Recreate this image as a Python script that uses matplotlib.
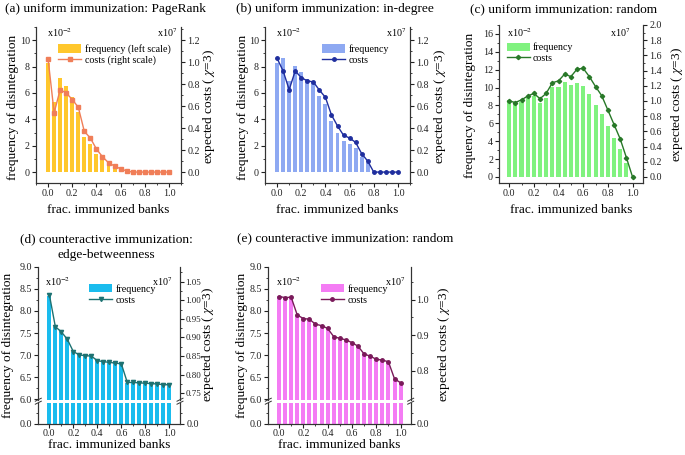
import numpy as np
import matplotlib
matplotlib.use('Agg')
import matplotlib.pyplot as plt
from matplotlib.lines import Line2D
from matplotlib.ticker import MultipleLocator, FormatStrFormatter

plt.rcParams['font.family'] = ['Liberation Serif', 'DejaVu Serif']
plt.rcParams['mathtext.fontset'] = 'stix'

W, H = 685, 455

# fraction of immunized banks (x categories)
frac = [0.0, 0.05, 0.1, 0.15, 0.2, 0.25, 0.3, 0.35, 0.4, 0.45, 0.5,
        0.55, 0.6, 0.65, 0.7, 0.75, 0.8, 0.85, 0.9, 0.95, 1.0]

# (a) uniform: PageRank  (freq x1e-2, costs x1e7)
freq_pr = [8.3, 5.3, 7.15, 6.5, 5.7, 4.55, 2.65, 2.1, 1.4, 0.9, 0.55,
           0.4, 0.25, 0.12, 0.05, 0.05, 0.05, 0.05, 0.05, 0.05, 0.05]
cost_pr = [1.03, 0.54, 0.75, 0.72, 0.66, 0.59, 0.37, 0.31, 0.21, 0.14, 0.085,
           0.055, 0.03, 0.01, 0.0, 0.0, 0.0, 0.0, 0.0, 0.0, 0.0]

# (b) uniform: in-degree
freq_in = [8.3, 8.68, 6.9, 8.07, 7.6, 7.07, 6.75, 5.75, 5.15, 3.85, 2.97,
           2.35, 2.15, 1.83, 1.15, 0.68, 0.04, 0.04, 0.04, 0.04, 0.04]
cost_in = [1.035, 0.92, 0.75, 0.92, 0.86, 0.83, 0.82, 0.746, 0.68, 0.52, 0.42,
           0.335, 0.31, 0.27, 0.168, 0.1, 0.0, 0.0, 0.0, 0.0, 0.0]

# (c) uniform: random
freq_rd = [8.6, 8.4, 8.4, 8.8, 9.0, 8.3, 8.8, 10.1, 10.1, 10.65, 10.3,
           10.5, 10.2, 9.25, 8.1, 7.0, 5.7, 4.35, 3.1, 1.55, 0.0]
cost_rd = [1.0, 0.98, 1.015, 1.065, 1.1, 1.03, 1.1, 1.24, 1.265, 1.355, 1.32,
           1.42, 1.43, 1.32, 1.19, 1.07, 0.88, 0.69, 0.5, 0.255, 0.0]

# (d) counteractive: edge-betweenness
freq_eb = [8.34, 7.64, 7.53, 7.36, 7.08, 7.02, 6.99, 6.99, 6.89, 6.87, 6.84,
           6.84, 6.81, 6.38, 6.38, 6.37, 6.36, 6.35, 6.34, 6.33, 6.33]
cost_eb = [1.015, 0.929, 0.915, 0.895, 0.862, 0.853, 0.851, 0.85, 0.8375, 0.835, 0.833,
           0.831, 0.829, 0.779, 0.779, 0.778, 0.777, 0.776, 0.775, 0.773, 0.773]

# (e) counteractive: random
freq_cr = [8.33, 8.30, 8.30, 7.90, 7.83, 7.81, 7.70, 7.66, 7.60, 7.41, 7.37,
           7.34, 7.28, 7.20, 7.02, 6.97, 6.90, 6.88, 6.85, 6.45, 6.37]
cost_cr = [1.009, 1.006, 1.007, 0.957, 0.947, 0.945, 0.931, 0.927, 0.919, 0.896, 0.891,
           0.887, 0.879, 0.869, 0.847, 0.841, 0.832, 0.830, 0.825, 0.777, 0.766]

FS = 9.6
TS = 7.2

fig = plt.figure(figsize=(W / 100, H / 100), dpi=100)


def rect(l, t, r, b):
    return [l / W, 1 - b / H, (r - l) / W, (b - t) / H]


def fxy(x, y):
    return x / W, 1 - y / H


def style(ax):
    ax.spines['top'].set_visible(False)
    for s in ax.spines.values():
        s.set_color('#333333')
        s.set_linewidth(0.8)
    ax.tick_params(which='both', direction='out', labelsize=TS, colors='#222222', pad=1.5)
    ax.tick_params(which='major', length=3)
    ax.tick_params(which='minor', length=1.7)
    ax.tick_params(axis='x', pad=1)


def xaxis(ax, xlim):
    ax.set_xlim(*xlim)
    ax.xaxis.set_major_locator(MultipleLocator(0.2))
    ax.xaxis.set_minor_locator(MultipleLocator(0.1))
    ax.xaxis.set_major_formatter(FormatStrFormatter('%.1f'))


def labels(ax_x, ax_l, ax_r, xl, yl, yr):
    ax_x.set_xlabel('frac. immunized banks', fontsize=FS, va='center')
    ax_x.xaxis.set_label_coords(*fxy(*xl), transform=fig.transFigure)
    ax_l.set_ylabel('frequency of disintegration', fontsize=FS, va='center')
    ax_l.yaxis.set_label_coords(*fxy(*yl), transform=fig.transFigure)
    ax_r.set_ylabel(r'expected costs ( $\chi$=3)', fontsize=FS, va='center')
    ax_r.yaxis.set_label_coords(*fxy(*yr), transform=fig.transFigure)


def exps(x1, x2, y):
    fig.text(*fxy(x1, y), r'x10$^{-2}$', fontsize=TS, va='center', ha='left')
    fig.text(*fxy(x2, y), r'x10$^{7}$', fontsize=TS, va='center', ha='right')


def legend(ax, bars, line, names, at):
    ax.legend([bars, line], names, loc='upper left', bbox_to_anchor=at, frameon=False,
              fontsize=TS, handlelength=2.3, handleheight=0.9, handletextpad=0.35,
              labelspacing=0.15, borderaxespad=0, borderpad=0)


def simple(box, freq, cost, bc, lc, mk, ms, ylim, ylim2, ystep, ystep2, xlim,
           names, leg_at, lab, ex, title, tpos):
    ax = fig.add_axes(rect(*box))
    ax2 = ax.twinx()
    style(ax)
    style(ax2)
    bars = ax.bar(frac, freq, width=0.033, color=bc, linewidth=0)
    line, = ax2.plot(frac, cost, color=lc, marker=mk, ms=ms, lw=1)
    xaxis(ax, xlim)
    ax.set_ylim(*ylim)
    ax2.set_ylim(*ylim2)
    ax.yaxis.set_major_locator(MultipleLocator(ystep))
    ax.yaxis.set_minor_locator(MultipleLocator(ystep / 2))
    ax2.yaxis.set_major_locator(MultipleLocator(ystep2))
    ax2.yaxis.set_minor_locator(MultipleLocator(ystep2 / 2))
    ax2.yaxis.set_major_formatter(FormatStrFormatter('%.1f'))
    legend(ax2, bars, line, names, leg_at)
    labels(ax, ax, ax2, *lab)
    exps(*ex)
    fig.text(*fxy(*tpos), title, fontsize=FS, va='center', ha='left')


def breakmark(x, y):
    for dy in (-1.5, 1.5):
        fig.add_artist(Line2D([(x - 3) / W, (x + 3) / W],
                              [1 - (y + dy + 1.5) / H, 1 - (y + dy - 1.5) / H],
                              transform=fig.transFigure, color='#333333', lw=0.7))


def broken(l, r, freq, cost, bc, lc, mk, ms, ylim2, ystep2, fmt2, rts, xlim,
           leg_at, lab, ex):
    up = fig.add_axes(rect(l, 266.7, r, 399.8))
    lo = fig.add_axes(rect(l, 402.5, r, 423.8))
    up2 = up.twinx()
    lo2 = lo.twinx()
    for a in (up, lo, up2, lo2):
        style(a)
    up2.tick_params(labelsize=rts, pad=1)
    lo.tick_params(axis='x', pad=0.5)
    for a in (up, up2):
        a.spines['bottom'].set_visible(False)
        a.tick_params(axis='x', which='both', bottom=False, labelbottom=False)
    bars = up.bar(frac, freq, width=0.033, color=bc, linewidth=0)
    lo.bar(frac, freq, width=0.033, color=bc, linewidth=0)
    line, = up2.plot(frac, cost, color=lc, marker=mk, ms=ms, lw=1)
    xaxis(up, xlim)
    xaxis(lo, xlim)
    up.set_ylim(5.99, 9.0)
    up.yaxis.set_major_locator(MultipleLocator(0.5))
    up.yaxis.set_minor_locator(MultipleLocator(0.25))
    up.yaxis.set_major_formatter(FormatStrFormatter('%.1f'))
    up2.set_ylim(*ylim2)
    up2.yaxis.set_major_locator(MultipleLocator(ystep2))
    up2.yaxis.set_minor_locator(MultipleLocator(ystep2 / 2))
    up2.yaxis.set_major_formatter(FormatStrFormatter(fmt2))
    for a in (lo, lo2):
        a.set_ylim(0, 1)
        a.set_yticks([0])
        a.set_yticks([0.5], minor=True)
        a.yaxis.set_major_formatter(FormatStrFormatter('%.1f'))
    legend(up2, bars, line, ['frequency', 'costs'], leg_at)
    labels(lo, up, up2, *lab)
    exps(*ex)
    breakmark(l, 401.2)
    breakmark(r, 401.2)


simple((36, 27, 181, 183.3), freq_pr, cost_pr, '#FFC72C', '#F07E58', 's', 2.5,
       (-0.85, 11), (-0.102, 1.32), 2, 0.2, (-0.1, 1.1),
       ['frequency (left scale)', 'costs (right scale)'], (0.155, 0.89),
       ((108.5, 210), (13, 107), (209, 107)), (47, 177, 33),
       '(a) uniform immunization: PageRank', (5, 9))

simple((265, 27, 410, 183.3), freq_in, cost_in, '#8EA9F2', '#1F2E9E', 'o', 2.5,
       (-0.85, 11), (-0.102, 1.32), 2, 0.2, (-0.1, 1.1),
       ['frequency', 'costs'], (0.395, 0.89),
       ((337.5, 210), (243, 107), (440, 107)), (276, 406, 33),
       '(b) uniform immunization: in-degree', (236, 9))

simple((499.3, 25, 643.3, 183.3), freq_rd, cost_rd, '#80F27F', '#287828', 'D', 2.2,
       (-0.72, 17.0), (-0.083, 2.0), 2, 0.2, (-0.08, 1.087),
       ['frequency', 'costs'], (0.05, 0.89),
       ((571, 210), (470, 105), (677, 105)), (506.7, 630, 33),
       '(c) uniform immunization: random', (470, 9))

broken(38.3, 180, freq_eb, cost_eb, '#1ABCEE', '#1E7272', 'v', 3,
       (0.7325, 1.09), 0.05, '%.2f', 6.5, (-0.092, 1.089), (0.36, 0.87),
       ((109, 445), (8.5, 345), (208.5, 345)), (45, 172, 281.7))
fig.text(*fxy(106.7, 239), '(d) counteractive immunization:', fontsize=FS, ha='center', va='center')
fig.text(*fxy(106.7, 255), 'edge-betweenness', fontsize=FS, ha='center', va='center')

broken(268.3, 410.7, freq_cr, cost_cr, '#F47CF4', '#7A1A5A', 'o', 2.5,
       (0.718, 1.093), 0.1, '%.1f', TS, (-0.088, 1.083), (0.37, 0.87),
       ((339.5, 445), (242, 345), (444, 345)), (276, 405, 281.7))
fig.text(*fxy(237, 238.3), '(e) counteractive immunization: random', fontsize=FS, ha='left', va='center')

fig.savefig('out.png', dpi=100)
